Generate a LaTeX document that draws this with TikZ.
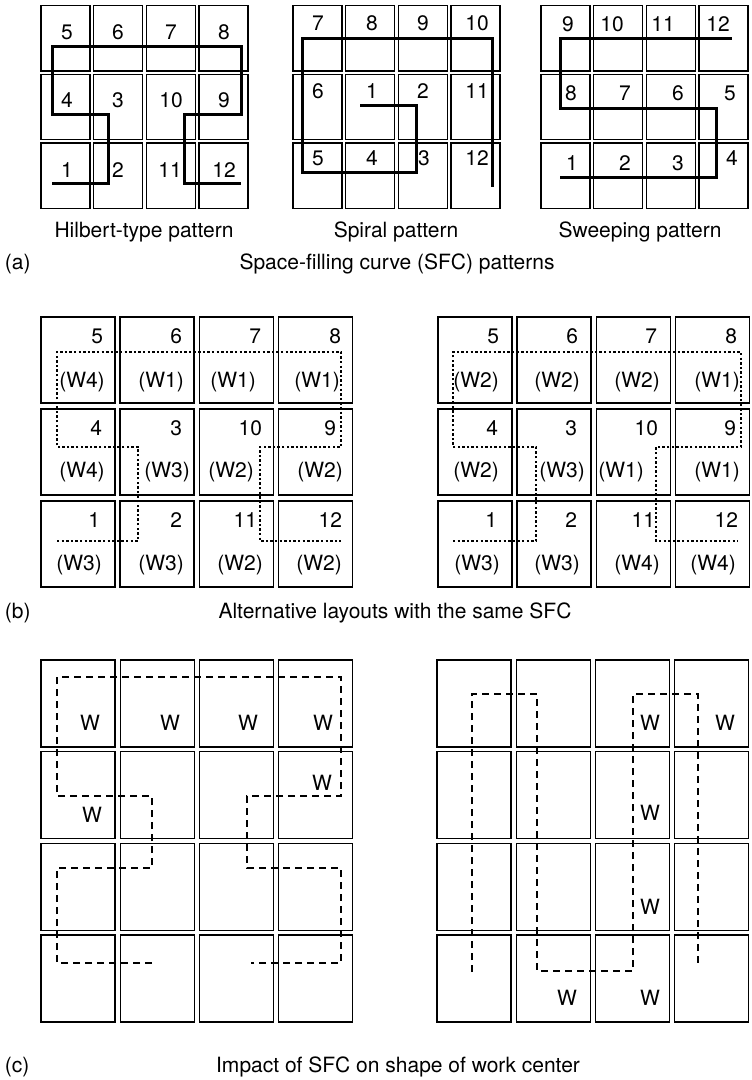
\documentclass[tikz,border=0pt]{standalone}
\usepackage{fontspec}
\setmainfont{TeX Gyre Heros}
\begin{document}
\begin{tikzpicture}[x=1pt,y=-1pt,
  cell/.style={draw, line width=1.4pt, inner sep=0pt, outer sep=0pt},
  lbl/.style={inner sep=0pt, outer sep=0pt, font=\fontsize{21}{25}\selectfont},
  sfc/.style={line width=3pt},
  dotc/.style={line width=2.4pt, dash pattern=on 2.4pt off 2.2pt},
  dashc/.style={line width=1.4pt, dash pattern=on 7pt off 5pt}]
\useasboundingbox (0,0) rectangle (752,1080);
% ---------- (a) grids ----------
\foreach \gx/\gn in {41/h,293/s,541/w}{
  \foreach \c in {0,...,3}{
    \foreach \r in {0,...,2}{
      \node[cell, minimum width=49pt, minimum height=65.5pt] (\gn-\r-\c)
        at ({\gx+24.5+\c*52.7},{5.5+32.75+\r*68.7}) {};
}}}
% numbers (a)
\foreach \x/\y/\t [count=\i] in {67/32/5,118/32/6,171/32/7,224/32/8,
  67/100/4,118/100/3,171/100/10,224/100/9,67/170/1,118/170/2,170/170/11,224/170/12}
  \node[lbl] (hn\i) at (\x,\y) {\t};
\foreach \x/\y/\t [count=\i] in {318/23/7,372/23/8,423/23/9,477/23/10,
  318/91/6,372/91/1,423/91/2,477/91/11,318/158/5,372/158/4,424/158/3,477/158/12}
  \node[lbl] (sn\i) at (\x,\y) {\t};
\foreach \x/\y/\t [count=\i] in {568/24/9,612/24/10,663/24/11,718/24/12,
  571/93/8,625/93/7,678/93/6,730/93/5,572/163/1,625/163/2,678/163/3,732/158/4}
  \node[lbl] (wn\i) at (\x,\y) {\t};
% curves (a)
\draw[sfc] (52,183) -- (108,183) -- (108,114) -- (52,114) -- (52,46) -- (241,46)
  -- (241,114) -- (184,114) -- (184,183) -- (241,183);
\draw[sfc] (360,105) -- (416,105) -- (416,172) -- (302,172) -- (302,38) -- (492,38) -- (492,187);
\draw[sfc] (560,177) -- (716,177) -- (716,108) -- (560,108) -- (560,38) -- (732,38);
% captions (a)
\node[lbl] (capH) at (144,232) {Hilbert-type pattern};
\node[lbl] (capS) at (396,232) {Spiral pattern};
\node[lbl] (capW) at (640,232) {Sweeping pattern};
\node[lbl, anchor=west] (tagA) at (5,264) {(a)};
\node[lbl] (titA) at (397,264) {Space-filling curve (SFC) patterns};
% ---------- (b) grids ----------
\foreach \gx/\gn in {41/bl,438/br}{
  \foreach \c in {0,...,3}{
    \foreach \r in {0,...,2}{
      \node[cell, minimum width=74pt, minimum height=86pt] (\gn-\r-\c)
        at ({\gx+37+\c*79.1},{317+43+\r*92}) {};
}}}
\foreach \x/\y/\t [count=\i] in {103/336/5,182/336/6,261/336/7,341/336/8,
  102/428/4,182/428/3,262/428/10,336/428/9,100/520/1,182/520/2,257/520/11,342/520/12}
  \node[lbl, anchor=east] (bln\i) at (\x,\y) {\t};
\foreach \x/\y/\t [count=\i] in {499/336/5,578/336/6,657/336/7,737/336/8,
  498/428/4,577/428/3,658/428/10,736/428/9,497/520/1,577/520/2,655/520/11,738/520/12}
  \node[lbl, anchor=east] (brn\i) at (\x,\y) {\t};
\foreach \x/\y/\t [count=\i] in {82/382/W4,161/382/W1,233/382/W1,317/382/W1,
  82/472/W4,167/472/W3,231/472/W2,320/472/W2,79/565/W3,161/565/W3,240/565/W2,319/565/W2}
  \node[lbl] (blw\i) at (\x,\y) {(\t)};
\foreach \x/\y/\t [count=\i] in {476/382/W2,557/382/W2,637/382/W2,717/382/W1,
  476/472/W2,562/472/W3,621/472/W1,717/472/W1,477/565/W3,557/565/W3,637/565/W4,713/565/W4}
  \node[lbl] (brw\i) at (\x,\y) {(\t)};
\draw[dotc] (57,541) -- (138,541) -- (138,447) -- (57,447) -- (57,352) -- (341,352)
  -- (341,447) -- (260,447) -- (260,541) -- (341,541);
\draw[dotc] (453,541) -- (536,541) -- (536,447) -- (453,447) -- (453,352) -- (741,352)
  -- (741,447) -- (656,447) -- (656,541) -- (738,541);
\node[lbl, anchor=west] (tagB) at (5,613) {(b)};
\node[lbl] (titB) at (395,613) {Alternative layouts with the same SFC};
% ---------- (c) grids ----------
\foreach \gx/\gn in {41/cl,437/cr}{
  \foreach \c in {0,...,3}{
    \foreach \r in {0,...,3}{
      \node[cell, minimum width=74pt, minimum height=87pt] (\gn-\r-\c)
        at ({\gx+37+\c*79.2},{660+43.5+\r*91.7}) {};
}}}
\draw[dashc] (152,963) -- (57,963) -- (57,868) -- (152,868) -- (152,796) -- (57,796)
  -- (57,677) -- (341,677) -- (341,796) -- (247,796) -- (247,868) -- (341,868)
  -- (341,963) -- (251,963);
\draw[dashc] (472,972) -- (472,694) -- (537,694) -- (537,971) -- (633,971)
  -- (633,694) -- (698,694) -- (698,967);
\foreach \x/\y [count=\i] in {90/723,170/723,248/723,323/723,322/783,92/815}
  \node[lbl] (clw\i) at (\x,\y) {W};
\foreach \x/\y [count=\i] in {650/723,725/723,650/813,650/907,567/998,650/998}
  \node[lbl] (crw\i) at (\x,\y) {W};
\node[lbl, anchor=west] (tagC) at (5,1067) {(c)};
\node[lbl] (titC) at (398,1067) {Impact of SFC on shape of work center};
\end{tikzpicture}
\end{document}
